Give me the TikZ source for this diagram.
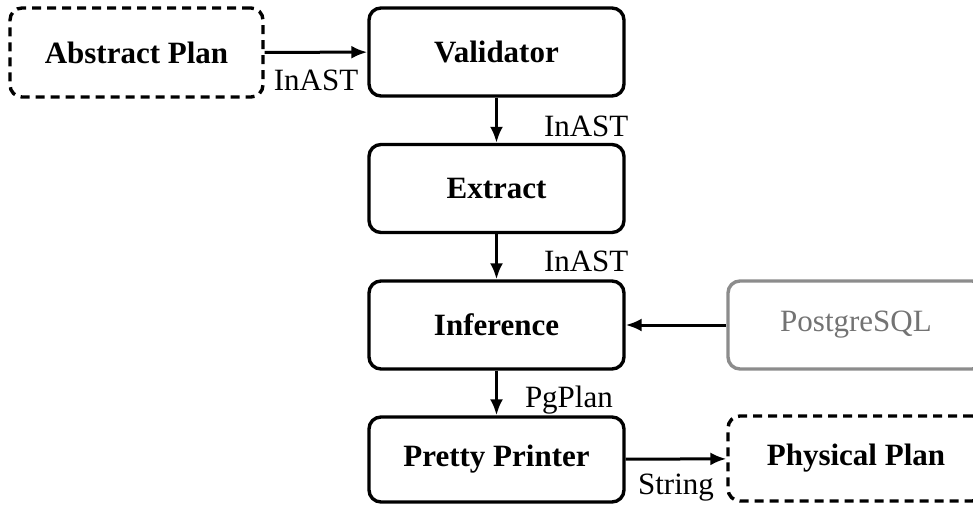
\documentclass[tikz,border=0pt]{standalone}
\usepackage{fontspec}
\setmainfont{Liberation Serif}
\usetikzlibrary{arrows.meta}
\begin{document}
\begin{tikzpicture}[x=1pt,y=-1pt,
  box/.style={draw, line width=3.4pt, rounded corners=12pt, minimum width=255pt, minimum height=88pt, inner sep=0pt, font=\fontsize{31}{37}\selectfont\bfseries},
  dbox/.style={box, dash pattern=on 9pt off 6pt},
  gbox/.style={box, draw=black!45, text=black!55, font=\fontsize{31}{37}\selectfont},
  arr/.style={line width=3pt, -{Latex[length=16pt,width=13pt]}},
  lbl/.style={font=\fontsize{31}{37}\selectfont, inner sep=0pt}]
\useasboundingbox (0,0) rectangle (973,504);
\clip (0,0) rectangle (973,504);
\node[dbox, minimum width=253pt, minimum height=89pt] (abs) at (136.5,52.5) {Abstract Plan};
\node[box] (val) at (496.5,52) {Validator};
\node[box] (ext) at (496.5,188.5) {Extract};
\node[box] (inf) at (496.5,325) {Inference};
\node[box, minimum height=85pt] (pp) at (496.5,459.5) {Pretty Printer};
\node[gbox, minimum width=256pt] (pg) at (856,325) {PostgreSQL};
\node[dbox, minimum width=256pt, minimum height=85pt] (phys) at (856,458.5) {Physical Plan};
\draw[arr] (abs) -- (val) node[lbl, midway, anchor=base, yshift=-38pt] {InAST};
\draw[arr] (val) -- (ext) node[lbl, midway, anchor=base west, xshift=46pt, yshift=-16pt] {InAST};
\draw[arr] (ext) -- (inf) node[lbl, midway, anchor=base west, xshift=46pt, yshift=-15pt] {InAST};
\draw[arr] (pg) -- (inf);
\draw[arr] (inf) -- (pp) node[lbl, midway, anchor=base west, xshift=27pt, yshift=-14pt] {PgPlan};
\draw[arr] (pp) -- (phys) node[lbl, midway, anchor=base, yshift=-35pt] {String};
\end{tikzpicture}
\end{document}
